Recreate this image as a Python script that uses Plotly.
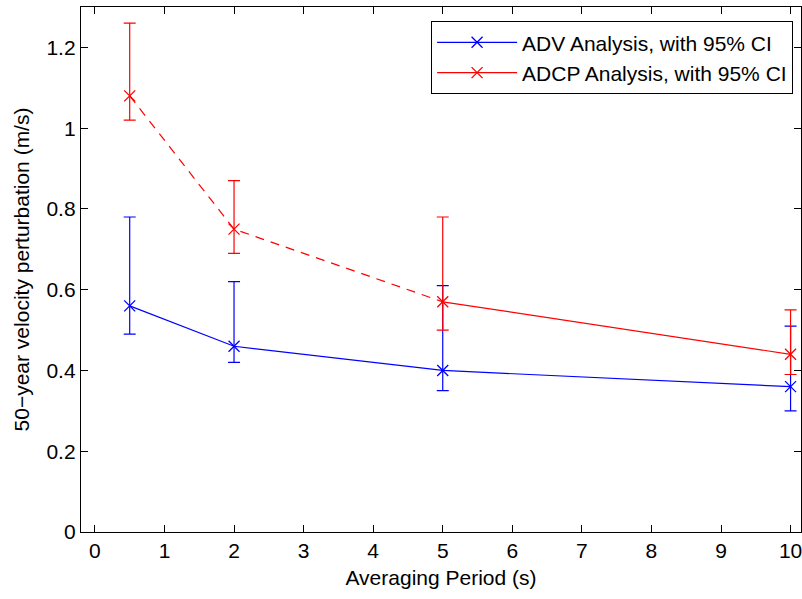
import plotly.graph_objects as go

period = [0.5, 2, 5, 10]
adv = [0.56, 0.46, 0.40, 0.36]
adv_lo = [0.49, 0.42, 0.35, 0.30]
adv_hi = [0.78, 0.62, 0.61, 0.51]
adcp = [1.08, 0.75, 0.57, 0.44]
adcp_lo = [1.02, 0.69, 0.50, 0.39]
adcp_hi = [1.26, 0.87, 0.78, 0.55]

def plus(v, hi):
    return [h - c for c, h in zip(v, hi)]

def minus(v, lo):
    return [c - l for c, l in zip(v, lo)]

BLUE = "rgb(0,0,255)"
RED = "rgb(255,0,0)"
FONT = "Liberation Sans, Arial, Helvetica, sans-serif"
FS = 21

fig = go.Figure()

fig.add_trace(go.Scatter(
    x=period, y=adv, mode="lines+markers",
    name="ADV Analysis, with 95% CI",
    line=dict(color=BLUE, width=1.2),
    marker=dict(symbol="x-thin", size=11, line=dict(color=BLUE, width=1.3)),
    error_y=dict(type="data", symmetric=False, array=plus(adv, adv_hi),
                 arrayminus=minus(adv, adv_lo), color=BLUE, thickness=1.2, width=6),
))

# dashed part of ADCP (first three points)
fig.add_trace(go.Scatter(
    x=period[:3], y=adcp[:3], mode="lines", showlegend=False,
    line=dict(color=RED, width=1.2, dash="9px,7px"),
))
# markers + error bars for first two points
fig.add_trace(go.Scatter(
    x=period[:2], y=adcp[:2], mode="markers", showlegend=False,
    marker=dict(symbol="x-thin", size=11, line=dict(color=RED, width=1.3)),
    error_y=dict(type="data", symmetric=False, array=plus(adcp[:2], adcp_hi[:2]),
                 arrayminus=minus(adcp[:2], adcp_lo[:2]), color=RED, thickness=1.2, width=6),
))
# solid part (last two points), legend entry
fig.add_trace(go.Scatter(
    x=period[2:], y=adcp[2:], mode="lines+markers",
    name="ADCP Analysis, with 95% CI",
    line=dict(color=RED, width=1.2),
    marker=dict(symbol="x-thin", size=11, line=dict(color=RED, width=1.3)),
    error_y=dict(type="data", symmetric=False, array=plus(adcp[2:], adcp_hi[2:]),
                 arrayminus=minus(adcp[2:], adcp_lo[2:]), color=RED, thickness=1.2, width=6),
))

axis_common = dict(
    showline=True, linecolor="black", linewidth=1.3, mirror="ticks",
    ticks="inside", ticklen=7, tickcolor="black", tickwidth=1,
    showgrid=False, zeroline=False, automargin=False,
    ticklabeloverflow="allow",
    tickfont=dict(family=FONT, size=FS, color="black"),
)

fig.update_layout(
    width=802, height=599,
    margin=dict(l=81, r=1, t=7, b=67),
    paper_bgcolor="white", plot_bgcolor="white",
    font=dict(family=FONT, size=FS, color="black"),
    xaxis=dict(range=[-0.2, 10.15], tickmode="linear", tick0=0, dtick=1,
               title=dict(text="Averaging Period (s)", font=dict(family=FONT, size=FS), standoff=8),
               **axis_common),
    yaxis=dict(range=[0, 1.3], tickmode="linear", tick0=0, dtick=0.2,
               title=dict(text="50\u2212year velocity perturbation (m/s)", font=dict(family=FONT, size=FS), standoff=11),
               **axis_common),
    legend=dict(x=0.989, y=0.973, xanchor="right", yanchor="top",
                bgcolor="white", bordercolor="black", borderwidth=1,
                font=dict(family=FONT, size=FS), itemwidth=80, tracegroupgap=0),
    showlegend=True,
)

fig.write_html("out.html")
